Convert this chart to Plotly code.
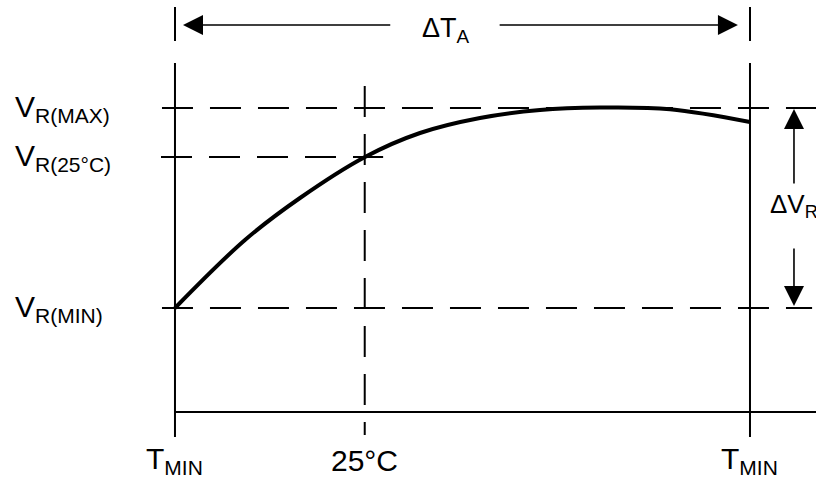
import plotly.graph_objects as go

# ---- data (normalised units: T 0..100 between the two T_MIN marks, V 0..100 between V_R(MIN) and V_R(MAX)) ----
T_CURVE = [0, 12.17, 21.74, 33.04, 42.61, 53.04, 63.48, 73.91, 86.09, 100]
V_CURVE = [0, 34.0, 55.0, 75.5, 87.5, 95.0, 99.0, 100.2, 99.4, 93.0]

T_MIN_POS = 0
T_25 = 33.0
T_MAX_POS = 100
V_MIN = 0
V_25 = 75.5
V_MAX = 100
V_BASE = -52

X_RANGE = [-30.43, 111.48]
Y_RANGE = [-85, 154]

LEFT_LABELS = ["V<sub>R(MAX)</sub>", "V<sub>R(25°C)</sub>", "V<sub>R(MIN)</sub>"]
LEFT_LABEL_V = [V_MAX, V_25, V_MIN]
BOTTOM_LABELS = ["T<sub>MIN</sub>", "25°C", "T<sub>MIN</sub>"]
BOTTOM_LABEL_T = [T_MIN_POS, T_25, T_MAX_POS]

FONT = "Liberation Sans, Arial, sans-serif"
BLACK = "#000000"
DASH = "31px,17px"

fig = go.Figure()

def seg(xs, ys, width=2, dash=None):
    fig.add_trace(go.Scatter(x=xs, y=ys, mode="lines", hoverinfo="skip",
                             line=dict(color=BLACK, width=width, dash=dash)))

# dashed reference lines
seg([-2.26, X_RANGE[1]], [V_MAX, V_MAX], 2, DASH)
seg([-2.43, 36.2], [V_25, V_25], 2, DASH)
seg([-2.26, 110.8], [V_MIN, V_MIN], 2, DASH)
seg([T_25, T_25], [111, -63.5], 2, DASH)

# solid frame lines
seg([T_MIN_POS, T_MIN_POS], [122.5, -64.5], 2)
seg([T_MAX_POS, T_MAX_POS], [122.5, -64.5], 2)
seg([T_MIN_POS, T_MIN_POS], [150.5, 133.5], 2)
seg([T_MAX_POS, T_MAX_POS], [150.5, 133.5], 2)
seg([T_MIN_POS, X_RANGE[1]], [V_BASE, V_BASE], 2)

# curve
fig.add_trace(go.Scatter(x=T_CURVE, y=V_CURVE, mode="lines", hoverinfo="skip",
                         line=dict(color=BLACK, width=4, shape="spline", smoothing=1.0)))

ann = []
def arrow(x, y, ax, ay):
    ann.append(dict(x=x, y=y, ax=ax, ay=ay, xref="x", yref="y", axref="x", ayref="y",
                    text="", showarrow=True, arrowhead=2, arrowsize=2.5, arrowwidth=1.6,
                    arrowcolor=BLACK, standoff=0, startstandoff=0))

arrow(1.39, 141.5, 37.7, 141.5)
arrow(97.9, 141.5, 56.2, 141.5)
arrow(107.65, 99.5, 107.65, 61.5)
arrow(107.65, 1.0, 107.65, 30.5)

ann.append(dict(x=47.1, y=139, xref="x", yref="y", text="ΔT<sub>A</sub>", showarrow=False,
                font=dict(family=FONT, size=27, color=BLACK), xanchor="center", yanchor="middle"))
ann.append(dict(x=103.1, y=51.5, xref="x", yref="y", text="ΔV<sub>R</sub>", showarrow=False,
                font=dict(family=FONT, size=26, color=BLACK), xanchor="left", yanchor="middle"))

for txt, v in zip(LEFT_LABELS, LEFT_LABEL_V):
    ann.append(dict(x=-28.2, y=v, xref="x", yref="y", text=txt, showarrow=False,
                    font=dict(family=FONT, size=30, color=BLACK), xanchor="left", yanchor="middle"))
for txt, t in zip(BOTTOM_LABELS, BOTTOM_LABEL_T):
    ann.append(dict(x=t, y=-76, xref="x", yref="y", text=txt, showarrow=False,
                    font=dict(family=FONT, size=30, color=BLACK), xanchor="center", yanchor="middle"))

fig.update_layout(
    width=816, height=478, margin=dict(l=0, r=0, t=0, b=0),
    paper_bgcolor="white", plot_bgcolor="white", showlegend=False,
    xaxis=dict(range=X_RANGE, visible=False, fixedrange=True),
    yaxis=dict(range=Y_RANGE, visible=False, fixedrange=True),
    annotations=ann,
)

fig.write_html("out.html", config={"displayModeBar": False})
